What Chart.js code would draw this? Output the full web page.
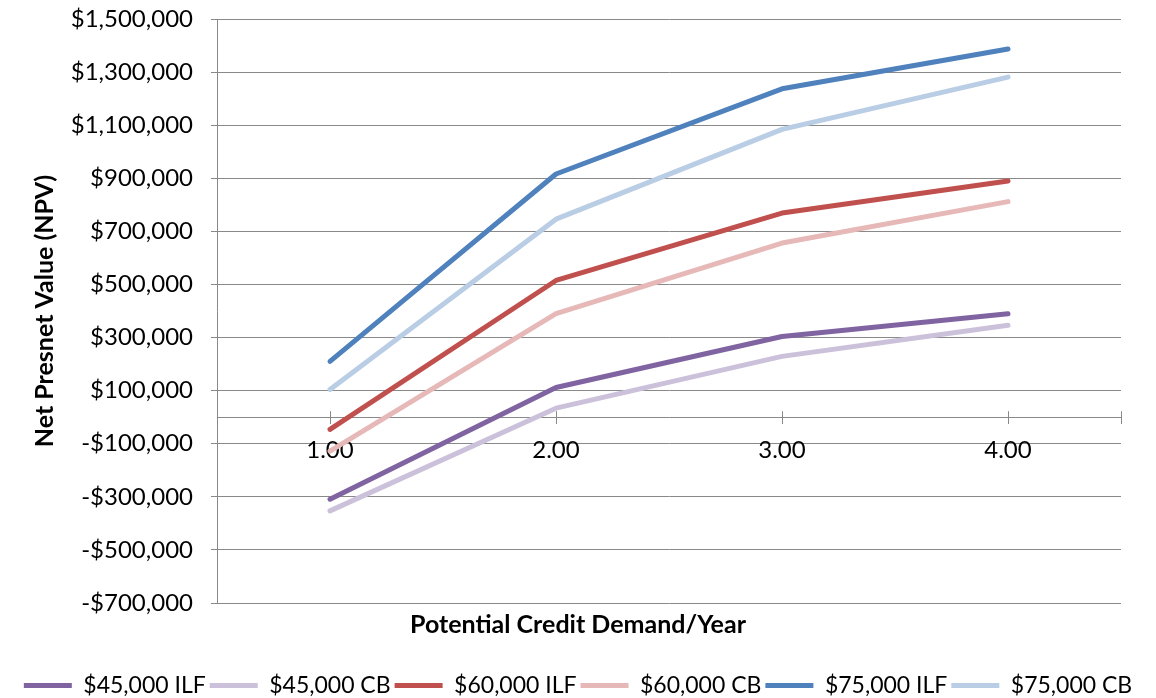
<!DOCTYPE html>
<html>
<head>
<meta charset="utf-8">
<script src="https://cdn.jsdelivr.net/npm/chart.js@4"></script>
<style>
  html, body { margin: 0; padding: 0; background: #fff; }
  #npvChart { display: block; }
</style>
</head>
<body>
<canvas id="npvChart" width="1156" height="698"></canvas>
<script>
// ── Data ──────────────────────────────────────────────────────
const X_VALUES = [1, 2, 3, 4];             // potential credit demand / year
const X_TICKS  = [1, 2, 3, 4, 4.5];        // 4.5 = end-of-axis tick, no label

const SERIES_NAMES = ['$45,000 ILF', '$45,000 CB', '$60,000 ILF',
                      '$60,000 CB', '$75,000 ILF', '$75,000 CB'];

const ILF_45 = [-309000, 112000,  304000,  390000];
const CB_45  = [-353000,  34000,  229000,  346000];
const ILF_60 = [ -46000, 515000,  769000,  890000];
const CB_60  = [-128000, 390000,  656000,  812000];
const ILF_75 = [ 210000, 916000, 1237000, 1387000];
const CB_75  = [ 104000, 746000, 1084000, 1281000];

const SERIES_VALUES = [ILF_45, CB_45, ILF_60, CB_60, ILF_75, CB_75];
const SERIES_COLORS = ['#8064a2', '#ccc1da', '#c0504d', '#e6b9b8', '#4f81bd', '#b9cde5'];

const Y_MIN = -700000, Y_MAX = 1500000, Y_STEP = 200000;
const X_MIN = 0.5, X_MAX = 4.5;

const FONT = 'Lato';
const AXIS_GREY = '#898989';

function money(v) {
  return (v < 0 ? '-' : '') + '$' + Math.abs(v).toLocaleString('en-US');
}

// Excel style "cross" tick marks on the zero axis: Chart.js only draws the lower half
const crossTicks = {
  id: 'crossTicks',
  beforeDatasetsDraw(chart) {
    const xs = chart.scales.x, ys = chart.scales.y;
    const y0 = ys.getPixelForValue(0);
    const ctx = chart.ctx;
    ctx.save();
    ctx.strokeStyle = AXIS_GREY;
    ctx.lineWidth = 1;
    xs.ticks.forEach(t => {
      const px = Math.round(xs.getPixelForValue(t.value)) + 0.5;
      ctx.beginPath();
      ctx.moveTo(px, y0 - 6);
      ctx.lineTo(px, y0);
      ctx.stroke();
    });
    ctx.restore();
  },
};

const datasets = SERIES_NAMES.map((name, i) => ({
  label: name,
  data: X_VALUES.map((x, j) => ({ x, y: SERIES_VALUES[i][j] })),
  borderColor: SERIES_COLORS[i],
  backgroundColor: SERIES_COLORS[i],
  borderWidth: 5,
  borderCapStyle: 'round',
  borderJoinStyle: 'round',
  pointRadius: 0,
  pointHoverRadius: 0,
  tension: 0,
  fill: false,
  pointStyle: 'line',
}));

new Chart(document.getElementById('npvChart'), {
  type: 'line',
  data: { datasets },
  plugins: [crossTicks],
  options: {
    responsive: false,
    animation: false,
    layout: { padding: { top: 19, right: 0, bottom: -9, left: 0 } },
    plugins: {
      tooltip: { enabled: false },
      title: {
        display: true,
        text: 'Potential Credit Demand/Year',
        position: 'bottom',
        weight: 500,
        color: '#000',
        font: { family: FONT, size: 25, weight: 'bold' },
        padding: { top: 7, bottom: 30 },
      },
      legend: {
        position: 'bottom',
        labels: {
          usePointStyle: true,
          pointStyleWidth: 48,
          boxHeight: 5,
          padding: 4,
          color: '#000',
          font: { family: FONT, size: 23 },
        },
      },
    },
    scales: {
      x: {
        type: 'linear',
        position: { y: 0 },
        min: X_MIN,
        max: X_MAX,
        afterBuildTicks: axis => { axis.ticks = X_TICKS.map(v => ({ value: v })); },
        ticks: {
          color: '#000',
          padding: 13,
          font: { family: FONT, size: 24 },
          callback: v => Number.isInteger(v) ? v.toFixed(2) : '',
        },
        grid: {
          drawOnChartArea: false,
          drawTicks: true,
          tickLength: 6,
          color: AXIS_GREY,
        },
        border: { display: true, color: AXIS_GREY, width: 1 },
      },
      y: {
        min: Y_MIN,
        max: Y_MAX,
        afterFit: scale => {
          scale.width = 217;
          scale.paddingTop = 0;      // label padding should not push the plot down
          scale.paddingBottom = 0;
        },
        ticks: {
          stepSize: Y_STEP,
          color: '#000',
          padding: 18,
          font: { family: FONT, size: 24 },
          callback: v => money(v),
        },
        grid: {
          color: AXIS_GREY,
          lineWidth: 1,
          tickLength: 6,
        },
        border: { display: true, color: AXIS_GREY, width: 1 },
        title: {
          display: true,
          text: 'Net Presnet Value (NPV)',
          color: '#000',
          font: { family: FONT, size: 25, weight: 'bold' },
          padding: { top: 30, bottom: 0 },
        },
      },
      // empty right-hand box that keeps the plot clear of the canvas edge
      gap: {
        type: 'linear',
        position: 'right',
        afterFit: scale => {
          scale.width = 35;
          scale.paddingTop = 0;
          scale.paddingBottom = 0;
        },
        ticks: { display: false },
        grid: { display: false },
        border: { display: false },
      },
    },
  },
});
</script>
</body>
</html>
